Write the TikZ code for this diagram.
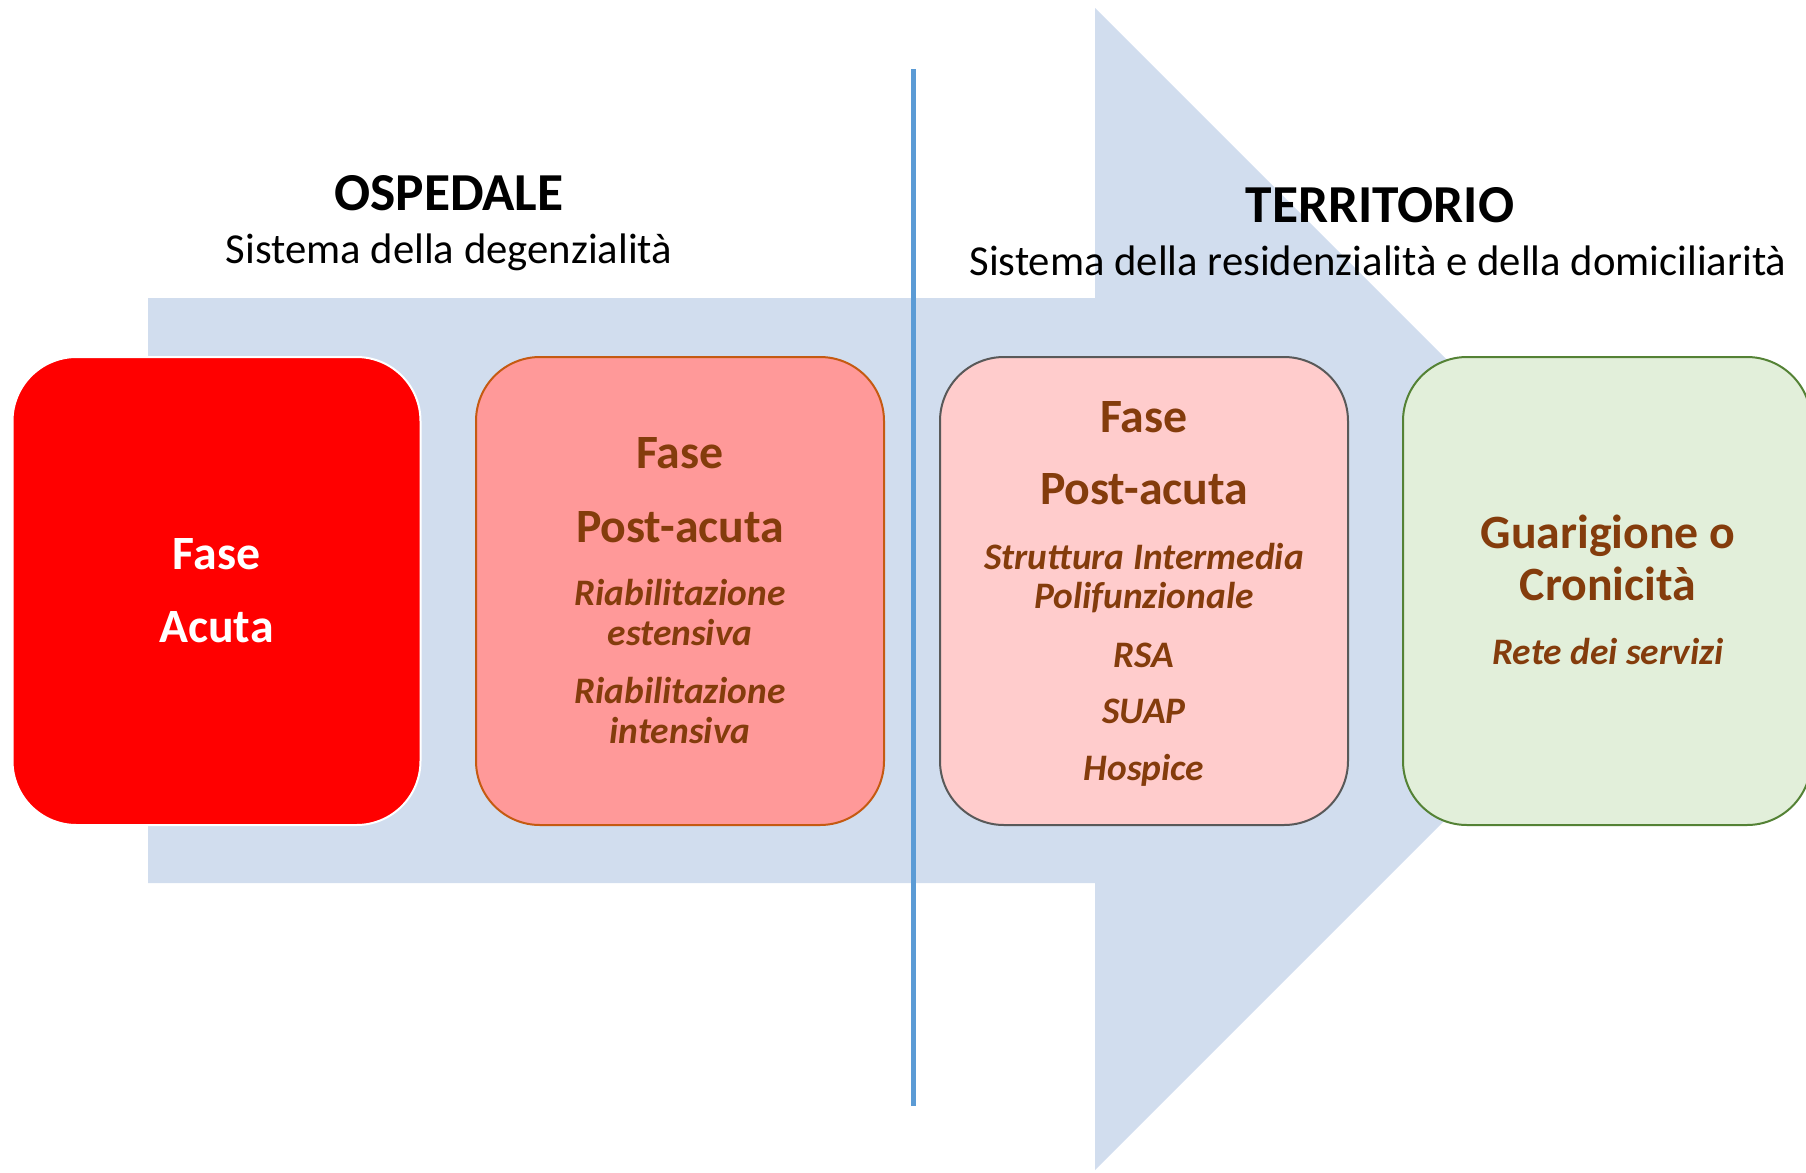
\documentclass[tikz,border=0pt]{standalone}
\usepackage{fontspec}
\setmainfont{Carlito}
\definecolor{arrowfill}{RGB}{209,221,238}
\definecolor{divline}{RGB}{91,155,213}
\definecolor{acutered}{RGB}{255,0,0}
\definecolor{postfill}{RGB}{255,153,153}
\definecolor{postdraw}{RGB}{197,90,17}
\definecolor{terrfill}{RGB}{255,204,204}
\definecolor{terrdraw}{RGB}{89,89,89}
\definecolor{greenfill}{RGB}{226,239,218}
\definecolor{greendraw}{RGB}{84,130,53}
\definecolor{brown}{RGB}{132,60,12}
\tikzset{
  phasebox/.style={rectangle, rounded corners=32pt, minimum width=204pt, minimum height=234pt, line width=1pt, inner sep=0pt},
  bigtxt/.style={anchor=base, font=\fontsize{23.9}{28}\selectfont\bfseries, text=brown, inner sep=0pt},
  smalltxt/.style={anchor=base, font=\fontsize{18.7}{22}\selectfont\bfseries\itshape, text=brown, inner sep=0pt},
  headtxt/.style={anchor=base, font=\fontsize{26.7}{31}\selectfont\bfseries, text=black, inner sep=0pt},
  subtxt/.style={anchor=base, font=\fontsize{21.35}{25}\selectfont, text=black, inner sep=0pt}
}
\begin{document}
\begin{tikzpicture}[x=0.5pt,y=-0.5pt]
\useasboundingbox (0,0) rectangle (1806,1173);
\clip (0,0) rectangle (1806,1173);
% big arrow
\fill[arrowfill] (148,298) -- (1095,298) -- (1095,8) -- (1676,589) -- (1095,1170) -- (1095,883) -- (148,883) -- cycle;
% divider
\coordinate (dtop) at (913,69);
\coordinate (dbot) at (913,1106);
\draw[divline, line width=2.5pt] (dtop) -- (dbot);
% boxes
\node[phasebox, fill=acutered, draw=white] (acuta) at (216.5,591) {};
\node[phasebox, fill=postfill, draw=postdraw] (osp) at (680,591) {};
\node[phasebox, fill=terrfill, draw=terrdraw] (terr) at (1144,591) {};
\node[phasebox, fill=greenfill, draw=greendraw] (guar) at (1607,591) {};
% headers
\node[headtxt] (h1) at (449,210) {OSPEDALE};
\node[subtxt] (s1) at (449,263) {Sistema della degenzialità};
\node[headtxt] (h2) at (1380,222) {TERRITORIO};
\node[subtxt] (s2) at (1378,275) {Sistema della residenzialità e della domiciliarità};
% box 1
\node[bigtxt, text=white] (a1) at (216.5,569) {Fase};
\node[bigtxt, text=white] (a2) at (216.5,642) {Acuta};
% box 2
\node[bigtxt] (b1) at (680,468) {Fase};
\node[bigtxt] (b2) at (680,542) {Post-acuta};
\node[smalltxt] (b3) at (680,605) {Riabilitazione};
\node[smalltxt] (b4) at (680,645) {estensiva};
\node[smalltxt] (b5) at (680,703) {Riabilitazione};
\node[smalltxt] (b6) at (680,743) {intensiva};
% box 3
\node[bigtxt] (c1) at (1144,432) {Fase};
\node[bigtxt] (c2) at (1144,504) {Post-acuta};
\node[smalltxt] (c3) at (1144,569) {Struttura Intermedia};
\node[smalltxt] (c4) at (1144,608) {Polifunzionale};
\node[smalltxt] (c5) at (1144,667) {RSA};
\node[smalltxt] (c6) at (1144,723) {SUAP};
\node[smalltxt] (c7) at (1144,780) {Hospice};
% box 4
\node[bigtxt] (d1) at (1608,548) {Guarigione o};
\node[bigtxt] (d2) at (1608,600) {Cronicità};
\node[smalltxt] (d3) at (1608,664) {Rete dei servizi};
\end{tikzpicture}
\end{document}
